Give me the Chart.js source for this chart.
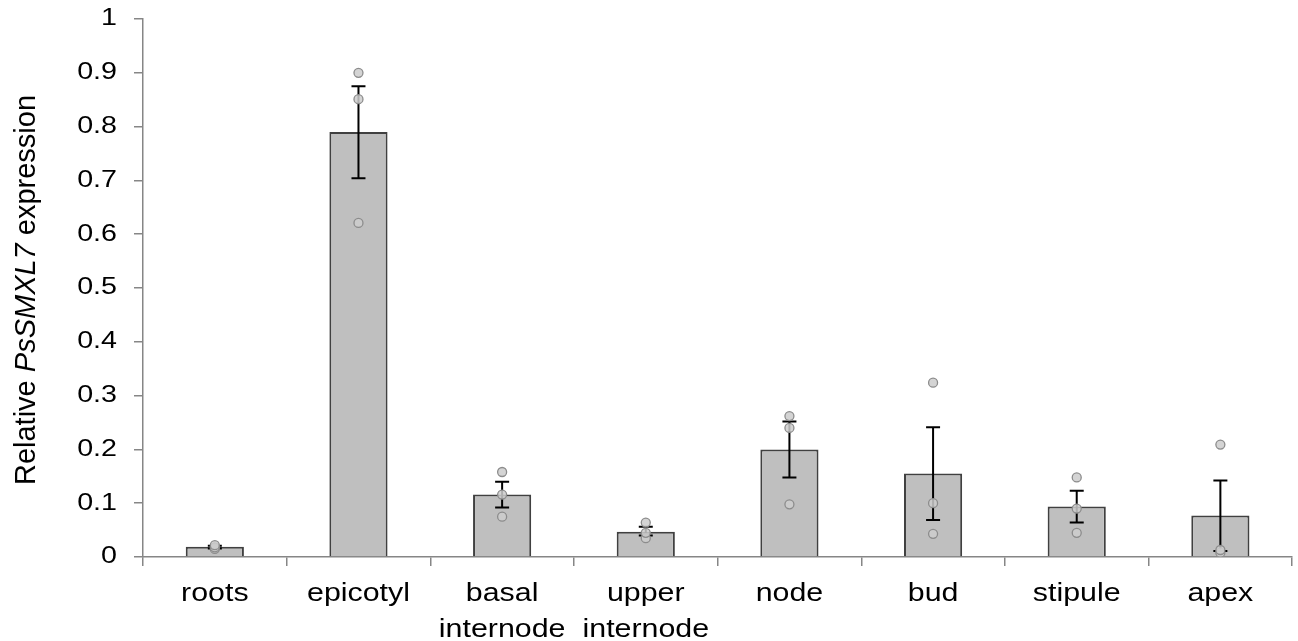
<!DOCTYPE html>
<html>
<head>
<meta charset="utf-8">
<script src="https://cdn.jsdelivr.net/npm/chart.js@4"></script>
<style>
    body { margin: 0; background: #fff; }
</style>
</head>
<body>
<canvas id="bar_chart" width="1298" height="641"></canvas>
<script>
var categories = ['roots', 'epicotyl', ['basal', 'internode'], ['upper', 'internode'], 'node', 'bud', 'stipule', 'apex'];
var means = [0.019, 0.790, 0.116, 0.047, 0.200, 0.155, 0.094, 0.077];
var errLow = [0.016, 0.704, 0.092, 0.040, 0.148, 0.069, 0.064, 0.011];
var errHigh = [0.021, 0.875, 0.140, 0.056, 0.252, 0.241, 0.123, 0.142];
var rep1 = [0.022, 0.900, 0.158, 0.064, 0.262, 0.324, 0.148, 0.209];
var rep2 = [0.018, 0.851, 0.116, 0.045, 0.240, 0.100, 0.090, 0.013];
var rep3 = [0.015, 0.621, 0.075, 0.035, 0.098, 0.043, 0.045, 0.008];
var yTicks = [0, 0.1, 0.2, 0.3, 0.4, 0.5, 0.6, 0.7, 0.8, 0.9, 1];

var fontFamily = '"Liberation Sans", Arial, sans-serif';
var axisColor = '#868686';

// error bars drawn right after the bars, below the points
var errorBars = {
    id: 'errorBars',
    afterDatasetDraw: function (chart, args) {
        if (args.index !== 0) return;
        var ctx = chart.ctx;
        var x = chart.scales.x, y = chart.scales.y;
        ctx.save();
        ctx.strokeStyle = '#000';
        ctx.lineWidth = 2;
        for (var i = 0; i < means.length; i++) {
            var cx = x.getPixelForValue(i);
            var top = y.getPixelForValue(errHigh[i]);
            var bot = y.getPixelForValue(errLow[i]);
            ctx.beginPath();
            ctx.moveTo(cx, top); ctx.lineTo(cx, bot);
            ctx.moveTo(cx - 7, top); ctx.lineTo(cx + 7, top);
            ctx.moveTo(cx - 7, bot); ctx.lineTo(cx + 7, bot);
            ctx.stroke();
        }
        ctx.restore();
    }
};

// tick labels: the source figure has its text stretched sideways, so draw them here
var tickLabels = {
    id: 'tickLabels',
    afterDraw: function (chart) {
        var ctx = chart.ctx;
        var x = chart.scales.x, y = chart.scales.y;
        var area = chart.chartArea;
        ctx.save();
        ctx.fillStyle = '#000';

        ctx.font = '25.5px ' + fontFamily;
        ctx.textAlign = 'center';
        ctx.textBaseline = 'alphabetic';
        categories.forEach(function (lab, i) {
            var lines = Array.isArray(lab) ? lab : [lab];
            var cx = x.getPixelForValue(i);
            lines.forEach(function (line, j) {
                ctx.save();
                ctx.translate(cx, area.bottom + 44 + j * 36);
                ctx.scale(1.19, 1);
                ctx.fillText(line, 0, 0);
                ctx.restore();
            });
        });

        ctx.font = '23.5px ' + fontFamily;
        ctx.textAlign = 'right';
        ctx.textBaseline = 'middle';
        yTicks.forEach(function (v) {
            ctx.save();
            ctx.translate(area.left - 26, y.getPixelForValue(v));
            ctx.scale(1.22, 1);
            ctx.fillText(String(v), 0, 0);
            ctx.restore();
        });
        ctx.restore();
    }
};

// y title with italic gene name
var yTitle = {
    id: 'yTitle',
    afterDraw: function (chart) {
        var ctx = chart.ctx;
        var parts = [
            { t: 'Relative ', f: '29px ' + fontFamily },
            { t: 'PsSMXL7', f: 'italic 29px ' + fontFamily },
            { t: ' expression', f: '29px ' + fontFamily }
        ];
        var total = 0;
        parts.forEach(function (p) { ctx.font = p.f; p.w = ctx.measureText(p.t).width; total += p.w; });
        ctx.save();
        ctx.translate(35, 290);
        ctx.rotate(-Math.PI / 2);
        ctx.fillStyle = '#000';
        ctx.textBaseline = 'alphabetic';
        ctx.textAlign = 'left';
        var px = -total / 2;
        parts.forEach(function (p) {
            ctx.font = p.f;
            ctx.fillText(p.t, px, 0);
            px += p.w;
        });
        ctx.restore();
    }
};

function repDataset(label, values) {
    return {
        type: 'line',
        label: label,
        data: values,
        showLine: false,
        pointRadius: 4.5,
        pointBackgroundColor: 'rgba(205, 205, 205, 0.85)',
        pointBorderColor: '#8c8c8c',
        pointBorderWidth: 1.3,
        order: 1
    };
}

new Chart(document.getElementById('bar_chart').getContext('2d'), {
    type: 'bar',
    data: {
        labels: categories,
        datasets: [{
            label: 'mean',
            data: means,
            backgroundColor: '#bfbfbf',
            borderColor: '#404040',
            borderWidth: 2,
            barPercentage: 0.405,
            categoryPercentage: 1,
            order: 2
        },
        repDataset('rep 1', rep1),
        repDataset('rep 2', rep2),
        repDataset('rep 3', rep3)]
    },
    options: {
        responsive: false,
        animation: false,
        layout: { padding: { top: 19, right: 1, left: 0, bottom: 0 } },
        plugins: {
            legend: { display: false },
            tooltip: { enabled: false }
        },
        scales: {
            x: {
                grid: {
                    drawOnChartArea: false,
                    drawTicks: true,
                    tickLength: 9,
                    color: axisColor,
                    lineWidth: 1.5,
                    offset: true
                },
                border: { color: axisColor, width: 1.5 },
                ticks: { display: false },
                afterFit: function (scale) { scale.height = 84; }
            },
            y: {
                min: 0,
                max: 1,
                afterBuildTicks: function (scale) {
                    scale.ticks = yTicks.map(function (v) { return { value: v }; });
                },
                grid: {
                    drawOnChartArea: false,
                    drawTicks: true,
                    tickLength: 9,
                    color: axisColor,
                    lineWidth: 1.5
                },
                border: { color: axisColor, width: 1.5 },
                ticks: { display: false },
                afterFit: function (scale) { scale.width = 143; }
            }
        }
    },
    plugins: [errorBars, tickLabels, yTitle]
});
</script>
</body>
</html>
